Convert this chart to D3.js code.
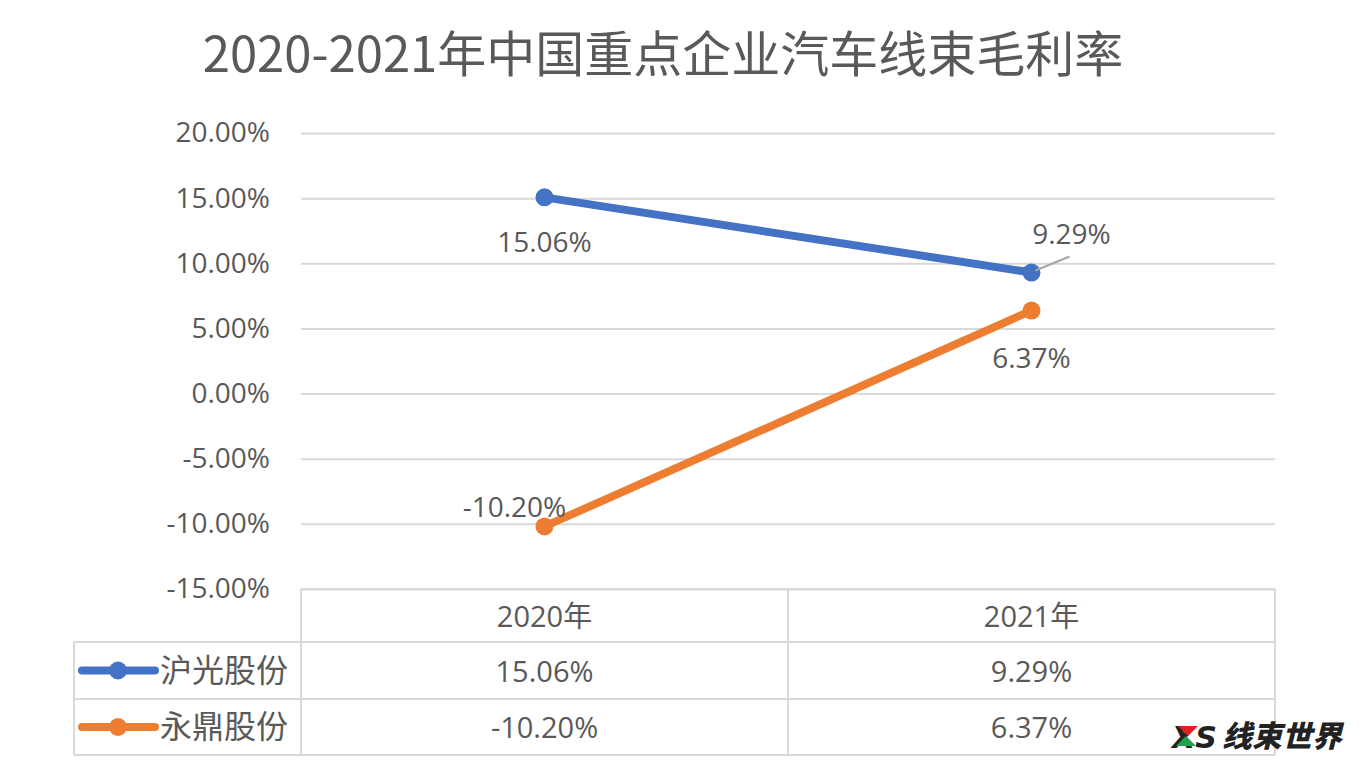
<!DOCTYPE html>
<html><head><meta charset="utf-8">
<script src="https://cdn.jsdelivr.net/npm/d3@7"></script>
<style>
html,body{margin:0;padding:0;background:#fff;}
svg{display:block;font-family:"Noto Sans CJK SC","Noto Sans",sans-serif;}
</style></head>
<body><svg id="c" width="1366" height="768"></svg>
<script>
const title = "2020-2021年中国重点企业汽车线束毛利率";
const categories = ["2020年", "2021年"];
const seriesNames = ["沪光股份", "永鼎股份"];
const huguang = [15.06, 9.29];
const yongding = [-10.20, 6.37];
const yTicks = [20, 15, 10, 5, 0, -5, -10, -15];
const colors = ["#4472C4", "#ED7D31"];

const series = [
  {name: seriesNames[0], values: huguang, color: colors[0]},
  {name: seriesNames[1], values: yongding, color: colors[1]}
];

const svg = d3.select("#c");
const pL = 301, pR = 1275, pT = 133, pB = 589;
const x = d3.scaleBand().domain(categories).range([pL, pR]);
const y = d3.scaleLinear().domain([-15, 20]).range([pB, pT]);
const fmt = v => v.toFixed(2) + "%";
const txt = "#595959", grid = "#d9d9d9";

svg.append("text").attr("x", 663).attr("y", 72).attr("text-anchor", "middle")
  .attr("font-size", 49).attr("fill", txt).text(title);

// gridlines
const yAxis = d3.axisLeft(y).tickValues(yTicks).tickSize(-(pR - pL)).tickFormat(fmt);
const ga = svg.append("g").attr("transform", `translate(${pL},0)`).call(yAxis);
ga.select(".domain").remove();
ga.selectAll(".tick line").attr("stroke", grid).attr("stroke-width", 2);
ga.selectAll(".tick text").attr("fill", txt).attr("font-size", 28).attr("x", -31)
  .attr("font-family", "'Open Sans','Noto Sans',sans-serif");

// data table
const rowH = [53, 57, 56];
const tY0 = pB, tLeft = 74;
const rowsY = [tY0, tY0 + rowH[0], tY0 + rowH[0] + rowH[1], tY0 + rowH[0] + rowH[1] + rowH[2]];
const tbl = svg.append("g").attr("stroke", grid).attr("stroke-width", 2).attr("fill", "none");
tbl.append("line").attr("x1", pL).attr("x2", pR).attr("y1", rowsY[0]).attr("y2", rowsY[0]);
for (let i = 1; i < 4; i++) tbl.append("line").attr("x1", tLeft).attr("x2", pR).attr("y1", rowsY[i]).attr("y2", rowsY[i]);
tbl.append("line").attr("x1", tLeft).attr("x2", tLeft).attr("y1", rowsY[1]).attr("y2", rowsY[3]);
[pL, x(categories[1]), pR].forEach(xx => tbl.append("line").attr("x1", xx).attr("x2", xx).attr("y1", rowsY[0]).attr("y2", rowsY[3]));

const tfont = "'Open Sans','Noto Sans CJK SC',sans-serif";
categories.forEach(c => {
  svg.append("text").attr("x", x(c) + x.bandwidth() / 2).attr("y", (rowsY[0] + rowsY[1]) / 2 + 11)
    .attr("text-anchor", "middle").attr("font-size", 29).attr("fill", txt).attr("font-family", tfont).text(c);
});
series.forEach((s, i) => {
  const cy = (rowsY[i + 1] + rowsY[i + 2]) / 2;
  svg.append("line").attr("x1", 82).attr("x2", 155).attr("y1", cy).attr("y2", cy)
    .attr("stroke", s.color).attr("stroke-width", 8).attr("stroke-linecap", "round");
  svg.append("circle").attr("cx", 118).attr("cy", cy).attr("r", 9).attr("fill", s.color);
  svg.append("text").attr("x", 160).attr("y", cy + 11).attr("font-size", 32).attr("fill", txt).text(s.name);
  s.values.forEach((v, j) => {
    svg.append("text").attr("x", x(categories[j]) + x.bandwidth() / 2).attr("y", cy + 11)
      .attr("text-anchor", "middle").attr("font-size", 29).attr("fill", txt).attr("font-family", tfont).text(fmt(v));
  });
});

// lines
const cx = c => x(c) + x.bandwidth() / 2;
const line = d3.line().x((d, i) => cx(categories[i])).y(d => y(d));
series.forEach(s => {
  svg.append("path").datum(s.values).attr("d", line).attr("fill", "none")
    .attr("stroke", s.color).attr("stroke-width", 8).attr("stroke-linecap", "round");
  svg.selectAll(null).data(s.values).enter().append("circle")
    .attr("cx", (d, i) => cx(categories[i])).attr("cy", d => y(d)).attr("r", 9).attr("fill", s.color);
});

// data labels
const lf = "'Open Sans','Noto Sans',sans-serif";
const lab = (xx, yy, t, anchor) => svg.append("text").attr("x", xx).attr("y", yy).attr("text-anchor", anchor || "middle")
  .attr("font-size", 28).attr("fill", txt).attr("font-family", lf).text(t);
lab(cx(categories[0]), y(huguang[0]) + 55, fmt(huguang[0]));
svg.append("line").attr("x1", cx(categories[1]) + 4).attr("y1", y(huguang[1]) - 2)
  .attr("x2", cx(categories[1]) + 38).attr("y2", y(huguang[1]) - 16).attr("stroke", "#a6a6a6").attr("stroke-width", 2);
lab(cx(categories[1]) + 40, y(huguang[1]) - 29, fmt(huguang[1]));
lab(cx(categories[1]), y(yongding[1]) + 57, fmt(yongding[1]));
lab(cx(categories[0]) - 30, y(yongding[0]) - 9, fmt(yongding[0]));

// watermark
const wm = svg.append("g").attr("transform", "translate(1172,748)");
wm.append("text").attr("x", 0).attr("y", 0).attr("font-size", 30).attr("font-weight", 900).attr("font-style", "italic")
  .attr("font-family", "'DejaVu Sans',sans-serif").attr("fill", "#222").text("XS");
wm.append("polygon").attr("points", "6,-22 26,-22 16,-12").attr("fill", "#e02020");
wm.append("polygon").attr("points", "4,-2 24,-2 14,-12").attr("fill", "#22a050");
wm.append("text").attr("x", 50).attr("y", -1).attr("font-size", 30).attr("font-weight", 900).attr("font-style", "italic")
  .attr("font-family", "'Noto Sans CJK SC',sans-serif").attr("fill", "#222").text("线束世界");
</script></body></html>
